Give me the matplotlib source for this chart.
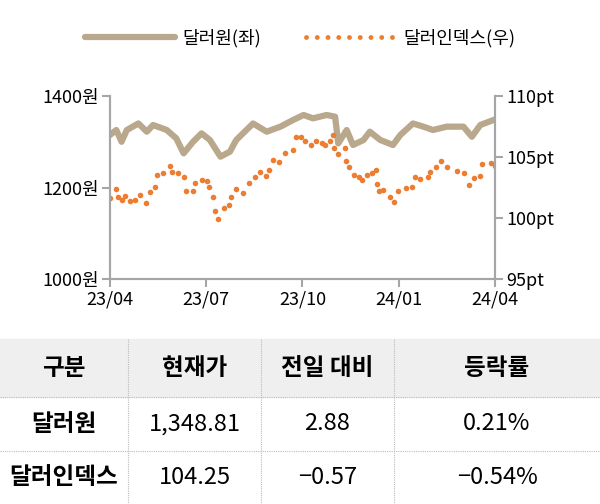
import matplotlib
matplotlib.use("Agg")
import matplotlib.pyplot as plt
from matplotlib import font_manager
from matplotlib.lines import Line2D
import datetime as dt

cands = [f.name for f in font_manager.fontManager.ttflist if "CJK" in f.name]
pref = [n for n in ["Noto Sans CJK KR", "Noto Sans CJK JP", "Noto Sans CJK SC"] if n in cands]
fam = (pref or cands or ["DejaVu Sans"])[0]
plt.rcParams["font.family"] = [fam, "DejaVu Sans"]

base = dt.date(2023, 4, 1)
won_days = [0,6,11,16,27,35,41,54,63,70,79,87,95,105,114,120,136,149,162,174,184,193,206,214,217,225,231,241,247,257,269,276,288,298,307,320,336,344,352,366]
won_vals = [1314.8,1325.7,1300,1325.7,1340,1322,1336.6,1325.7,1307.5,1274.7,1300,1318.4,1303.8,1267.4,1278.3,1303.8,1340,1322,1333,1347.5,1358.5,1351.2,1358.5,1354.8,1296.5,1325.7,1292.9,1303.8,1322,1303.8,1292.9,1314.8,1340,1333,1325.7,1333,1333,1311,1336.6,1348.8]
dxy_days = [0,6,8,11,14,19,24,29,34,38,43,45,50,57,59,65,70,72,79,81,87,92,94,98,100,103,108,113,115,120,126,132,138,143,148,151,155,161,166,174,177,182,185,191,196,202,204,209,212,213,217,223,224,227,232,237,240,244,249,253,254,256,260,266,270,274,281,287,290,295,302,304,310,315,320,330,337,341,346,352,354,362,366]
dxy_vals = [101.61,102.35,101.69,101.48,101.80,101.42,101.48,101.89,101.26,102.10,102.51,103.52,103.72,104.26,103.80,103.66,103.33,102.24,102.24,102.90,103.12,103.06,102.57,101.69,100.57,99.89,100.79,101.07,101.75,102.38,102.08,102.84,103.39,103.80,103.42,103.93,104.75,104.59,105.30,105.57,106.61,106.61,106.34,105.98,106.34,106.12,105.96,106.31,106.80,105.71,105.25,105.71,104.67,104.21,103.52,103.39,103.12,103.52,103.72,103.93,102.79,102.24,102.30,101.69,101.34,102.21,102.43,102.57,103.39,103.22,103.33,103.80,104.15,104.67,104.21,103.85,103.66,102.71,103.31,103.44,104.40,104.48,104.25]

left_ticks = [1000, 1200, 1400]
right_ticks = [95, 100, 105, 110]
x_tick_labels = ["23/04", "23/07", "23/10", "24/01", "24/04"]
x_tick_dates = [dt.date(2023,4,1), dt.date(2023,7,1), dt.date(2023,10,1), dt.date(2024,1,1), dt.date(2024,4,1)]

header = ["구분", "현재가", "전일 대비", "등락률"]
rows = [["달러원", "1,348.81", "2.88", "0.21%"],
        ["달러인덱스", "104.25", "-0.57", "-0.54%"]]

won_dates = [base + dt.timedelta(days=d) for d in won_days]
dxy_dates = [base + dt.timedelta(days=d) for d in dxy_days]

fig = plt.figure(figsize=(6, 5.04), dpi=100)
ax = fig.add_axes([0.1833, 0.4464, 0.6417, 0.3631])
ax2 = ax.twinx()
gray = "#a6a6a6"
ax.plot(won_dates, won_vals, color="#b9a88c", lw=4.5, solid_capstyle="round")
ax2.plot(dxy_dates, dxy_vals, ls="none", marker="o", ms=4, color="#ed7d31", mec="none")
ax.set_ylim(1000, 1400)
ax2.set_ylim(95, 110)
ax.set_xlim(x_tick_dates[0], x_tick_dates[-1])
ax.set_yticks(left_ticks)
ax.set_yticklabels([f"{v}원" for v in left_ticks], fontsize=13)
ax2.set_yticks(right_ticks)
ax2.set_yticklabels([f"{v}pt" for v in right_ticks], fontsize=13)
ax.set_xticks(x_tick_dates)
ax.set_xticklabels(x_tick_labels, fontsize=13)
for a in (ax, ax2):
    for s in a.spines.values():
        s.set_color(gray); s.set_linewidth(1.5)
    a.spines["top"].set_visible(False)
    a.tick_params(colors=gray, labelcolor="black", length=6, width=1.5, pad=2)

h1 = Line2D([], [], color="#b9a88c", lw=4.5, solid_capstyle="round")
h2 = Line2D([], [], color="#ed7d31", lw=3.5, ls=(0, (0.01, 2.2)), dash_capstyle="round")
fig.legend([h1, h2], ["달러원(좌)", "달러인덱스(우)"], loc="center", bbox_to_anchor=(0.5, 0.925),
           ncol=2, frameon=False, fontsize=13, handlelength=5, columnspacing=2.5,
           handletextpad=0.4)

# table
H = 504.0
col_x = [0, 128, 261, 394, 600]
row_y = [339, 397, 451, 504]
fig.patches.append(plt.Rectangle((0, 1 - row_y[1]/H), 1, (row_y[1]-row_y[0])/H,
                                 transform=fig.transFigure, color="#efefef", zorder=0))
for y in row_y[1:3]:
    fig.add_artist(Line2D([0, 1], [1 - y/H]*2, color="#bbbbbb", lw=0.8, ls=(0, (1, 1))))
for x in col_x[1:4]:
    fig.add_artist(Line2D([x/600]*2, [1 - row_y[0]/H, 0], color="#bbbbbb", lw=0.8, ls=(0, (1, 1))))
all_rows = [header] + rows
for r, row in enumerate(all_rows):
    yc = 1 - (row_y[r] + row_y[r+1]) / 2 / H
    for c, txt in enumerate(row):
        xc = (col_x[c] + col_x[c+1]) / 2 / 600
        bold = (r == 0) or (c == 0)
        fig.text(xc, yc, txt.replace("-", "\u2212"), ha="center", va="center", fontsize=17,
                 fontweight="bold" if bold else "normal")

fig.savefig("out.png", dpi=100)
